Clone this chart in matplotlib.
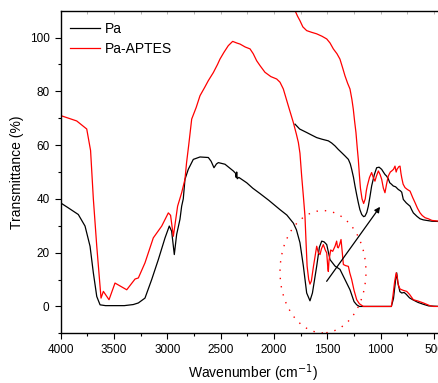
import numpy as np
import matplotlib
matplotlib.use("Agg")
import matplotlib.pyplot as plt
from matplotlib.patches import Ellipse

plt.rcParams["font.family"] = ["Liberation Sans", "DejaVu Sans"]

# Pa, full spectrum
pa_x = [4000, 3930, 3835, 3772, 3725, 3694, 3662, 3631, 3580, 3522, 3404, 3320, 3272, 3210,
        3147, 3085, 3022, 2982, 2960, 2935, 2913, 2882, 2866, 2851, 2835, 2804, 2757, 2694,
        2616, 2590, 2563, 2540, 2522, 2460, 2382, 2360, 2355, 2350, 2345, 2330, 2256, 2200,
        2132, 2050, 1944, 1880, 1819, 1790, 1757, 1725, 1694, 1663, 1640, 1600, 1575, 1553,
        1530, 1506, 1475, 1428, 1382, 1335, 1288, 1250, 1225, 1200, 900, 880, 860, 850, 840,
        820, 803, 780, 760, 730, 700, 650, 600, 550, 450]
pa_y = [38.5, 36.7, 34.2, 29.9, 22.4, 12.5, 3.7, 0.6, 0.3, 0.3, 0.3, 0.7, 1.3, 3.1,
        10.0, 17.4, 25.5, 29.9, 28.0, 19.3, 26.8, 32.4, 37.3, 40.0, 47.3, 51.0, 54.7, 55.6,
        55.4, 54.0, 51.6, 53.0, 53.5, 52.9, 50.4, 49.5, 48.0, 50.0, 47.5, 48.0, 46.0, 44.0,
        42.0, 39.5, 36.0, 34.0, 31.0, 28.5, 23.7, 15.0, 5.0, 2.1, 5.0, 15.0, 22.0, 24.3,
        24.0, 23.0, 17.4, 15.0, 13.8, 10.0, 6.2, 1.8, 0.6, 0.0, 0.0, 3.0, 10.0, 12.5, 9.0,
        5.5, 5.0, 5.2, 4.5, 3.2, 2.5, 1.5, 0.8, 0.2, 0.0]

# Pa-APTES, full spectrum
aptes_x = [4000, 3850, 3756, 3720, 3694, 3662, 3622, 3600, 3547, 3491, 3381, 3303, 3272, 3210,
           3132, 3053, 2991, 2970, 2944, 2904, 2866, 2835, 2820, 2800, 2772, 2730, 2694, 2650,
           2616, 2569, 2530, 2507, 2470, 2429, 2388, 2350, 2319, 2270, 2225, 2195, 2163, 2130,
           2085, 2030, 1975, 1944, 1913, 1866, 1819, 1790, 1772, 1757, 1741, 1725, 1710, 1700,
           1690, 1675, 1663, 1650, 1630, 1600, 1585, 1569, 1555, 1538, 1520, 1506, 1495, 1491,
           1485, 1469, 1450, 1428, 1413, 1405, 1397, 1385, 1372, 1360, 1350, 1330, 1303, 1290,
           1272, 1250, 1225, 1200, 1163, 900, 885, 870, 855, 845, 835, 819, 790, 756, 730, 694,
           650, 600, 540, 506, 450]
aptes_y = [71.0, 69.0, 66.0, 58.0, 40.0, 22.4, 3.1, 5.6, 2.5, 8.7, 6.2, 10.2, 10.6, 16.2,
           25.5, 29.9, 34.8, 33.9, 26.1, 37.3, 42.3, 47.3, 53.5, 60.0, 69.7, 74.0, 78.4, 81.5,
           84.0, 87.0, 90.0, 92.0, 94.5, 97.0, 98.6, 98.0, 97.6, 96.5, 95.8, 94.0, 91.4, 89.5,
           87.1, 85.5, 84.6, 83.4, 80.9, 74.6, 68.4, 64.0, 61.0, 57.0, 48.5, 41.0, 33.6, 24.0,
           15.0, 10.0, 8.3, 9.5, 15.0, 22.4, 20.0, 19.3, 21.5, 23.0, 21.0, 19.9, 14.0, 13.0,
           17.0, 21.0, 20.5, 22.4, 24.3, 22.0, 21.8, 23.0, 24.9, 20.0, 15.6, 15.2, 14.9, 12.5,
           10.0, 6.0, 2.5, 1.0, 0.0, 0.0, 4.0, 9.0, 12.5, 11.0, 8.0, 6.5, 6.0, 5.6, 4.5, 2.5,
           2.0, 1.3, 0.3, 0.0, 0.0]

# expanded 1800-450 region, Pa
pa_zoom_x = [1803, 1760, 1694, 1650, 1600, 1550, 1491, 1460, 1428, 1400, 1366, 1335, 1303, 1285,
             1272, 1255, 1241, 1225, 1210, 1195, 1178, 1160, 1147, 1130, 1116, 1100, 1085, 1060,
             1038, 1015, 991, 975, 960, 945, 929, 915, 900, 882, 860, 835, 815, 803, 788, 760,
             725, 710, 694, 660, 631, 600, 569, 520, 450]
pa_zoom_y = [67.8, 66.0, 64.7, 63.8, 62.8, 62.2, 61.6, 60.8, 59.7, 58.5, 57.2, 56.0, 54.7, 53.0,
             51.0, 48.0, 44.8, 41.5, 38.6, 36.0, 34.2, 33.4, 33.6, 35.0, 37.3, 41.0, 44.8, 49.0,
             51.6, 51.8, 51.0, 50.0, 49.1, 48.5, 47.5, 46.0, 45.5, 44.8, 44.5, 43.5, 43.0, 42.5,
             39.8, 38.5, 37.3, 36.0, 34.8, 33.5, 32.6, 32.2, 32.0, 31.7, 31.6]

# expanded 1800-450 region, Pa-APTES
aptes_zoom_x = [1797, 1780, 1757, 1730, 1694, 1650, 1600, 1550, 1506, 1475, 1444, 1410, 1382,
                1355, 1335, 1310, 1288, 1270, 1257, 1245, 1232, 1220, 1210, 1200, 1190, 1175,
                1160, 1145, 1135, 1126, 1105, 1085, 1070, 1054, 1040, 1022, 1005, 991, 975, 960,
                945, 929, 910, 897, 880, 866, 855, 847, 830, 819, 810, 803, 790, 772, 750, 725,
                700, 678, 655, 631, 610, 584, 553, 520, 450]
aptes_zoom_y = [109.5, 108.0, 106.3, 104.0, 102.6, 102.0, 101.4, 100.5, 99.5, 98.0, 95.8, 94.0,
                92.0, 88.5, 85.8, 83.0, 80.9, 77.0, 73.4, 69.0, 64.7, 59.0, 54.7, 49.0, 44.0,
                40.0, 38.3, 40.0, 43.0, 44.8, 48.0, 49.8, 48.0, 46.6, 48.5, 50.4, 49.0, 47.3,
                44.0, 42.3, 45.5, 48.5, 50.0, 50.4, 51.0, 52.2, 50.0, 51.0, 52.0, 52.2, 49.5,
                47.9, 45.5, 44.2, 43.5, 42.9, 40.5, 38.6, 36.5, 34.8, 33.8, 33.0, 32.6, 32.0,
                31.7]

fig = plt.figure(figsize=(4.38, 3.83), dpi=100)
ax = fig.add_axes([0.1386, 0.1297, 0.8767, 0.8423])

ax.plot(pa_x, pa_y, color="black", lw=0.9, label="Pa")
ax.plot(aptes_x, aptes_y, color="red", lw=0.9, label="Pa-APTES")
ax.plot(pa_zoom_x, pa_zoom_y, color="black", lw=0.9)
ax.plot(aptes_zoom_x, aptes_zoom_y, color="red", lw=0.9)

# dotted circle round the fingerprint region, plus arrow to the blow-up
ax.add_patch(Ellipse((1541, 12.9), 806, 45.5, fill=False, edgecolor="red",
                     lw=1.0, linestyle=(0, (1, 5))))
ax.annotate("", xy=(991, 37.9), xytext=(1522, 8.5),
            arrowprops=dict(arrowstyle="-|>", color="black", lw=0.9, mutation_scale=8))

ax.set_xlim(4000, 400)
ax.set_ylim(-10, 110)
ax.set_xticks(np.arange(4000, 499, -500))
ax.set_xticks(np.arange(3750, 400, -500), minor=True)
ax.set_yticks(np.arange(0, 101, 20))
ax.set_yticks(np.arange(-10, 110, 20), minor=True)
ax.tick_params(which="major", direction="out", length=4.5, width=0.8, labelsize=8.5)
ax.tick_params(which="minor", direction="out", length=2.5, width=0.8)

top = ax.secondary_xaxis("top")
top.set_xticks(np.arange(4000, 400, -250))
top.tick_params(direction="in", length=2, width=0.5, colors="0.6", labeltop=False)
top.spines["top"].set_visible(False)

for s in ["left", "bottom", "top"]:
    ax.spines[s].set_linewidth(1.0)
ax.spines["right"].set_visible(False)

ax.set_xlabel("Wavenumber (cm$^{-1}$)", fontsize=10, labelpad=4)
ax.set_ylabel("Transmittance (%)", fontsize=10, labelpad=4)

ax.legend(loc="upper left", bbox_to_anchor=(0.024, 0.965), frameon=False, fontsize=10,
          handlelength=2.2, handletextpad=0.35, labelspacing=0.44, borderpad=0,
          borderaxespad=0)

fig.savefig("out.png", dpi=100)
